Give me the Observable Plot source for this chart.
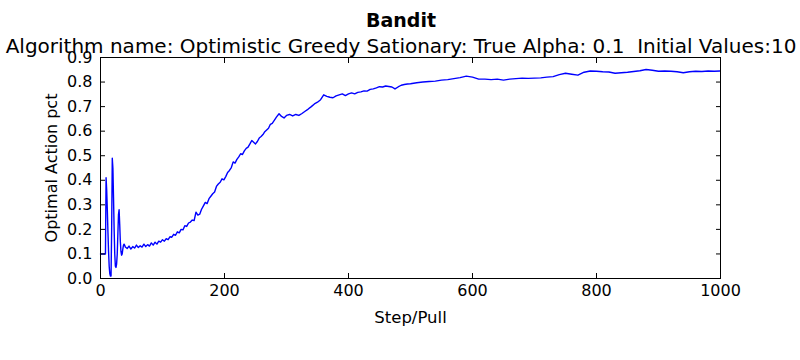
<!DOCTYPE html>
<html>
<head>
<meta charset="utf-8">
<script src="https://cdn.jsdelivr.net/npm/d3@7"></script>
<script src="https://cdn.jsdelivr.net/npm/@observablehq/plot@0.6"></script>
<style>
  html, body { margin: 0; padding: 0; background: white; }
  svg text { white-space: pre; }
</style>
</head>
<body>
<div id="chart"></div>
<script>
const chartTitle = "Bandit";
const chartSubtitle = "Algorithm name: Optimistic Greedy Sationary: True Alpha: 0.1  Initial Values:10";
const xLabel = "Step/Pull";
const yLabel = "Optimal Action pct";
const xTicks = [0, 200, 400, 600, 800, 1000];
const yTicks = [0.0, 0.1, 0.2, 0.3, 0.4, 0.5, 0.6, 0.7, 0.8, 0.9];

const steps = [
  0, 1, 2, 3, 4, 5, 6, 7, 8, 9, 10, 11, 12, 13, 14, 15, 16, 17, 18, 19,
  20, 21, 22, 23, 24, 25, 26, 27, 28, 29, 30, 31, 32, 33, 34, 35, 36, 37, 38, 39,
  40, 43, 46, 49, 52, 55, 58, 61, 64, 67, 70, 73, 76, 79, 82, 85, 88, 91, 94, 97,
  100, 103, 106, 109, 112, 115, 118, 121, 124, 127, 130, 133, 136, 139, 142, 145, 148, 151, 154, 157,
  160, 163, 166, 169, 172, 175, 178, 181, 184, 187, 190, 193, 196, 199, 202, 205, 208, 211, 214, 217,
  220, 223, 226, 229, 232, 235, 238, 241, 244, 247, 250, 253, 256, 259, 262, 265, 268, 271, 274, 277,
  280, 284, 288, 292, 296, 300, 305, 310, 315, 320, 325, 330, 335, 340, 345, 350, 355, 360, 365, 370,
  375, 380, 385, 390, 395, 400, 405, 410, 415, 420, 425, 430, 435, 440, 445, 450, 455, 460, 465, 470,
  475, 480, 485, 490, 495, 500, 510, 520, 530, 540, 550, 560, 570, 580, 590, 600, 610, 620, 630, 640,
  650, 660, 670, 680, 690, 700, 710, 720, 730, 740, 750, 760, 770, 780, 790, 800, 810, 820, 830, 840,
  850, 860, 870, 880, 890, 900, 910, 920, 930, 940, 950, 960, 970, 980, 990, 999
];
const pct = [
  0.10, 0.10, 0.10, 0.10, 0.10, 0.10, 0.10, 0.10, 0.10, 0.41, 0.36, 0.28, 0.19, 0.11, 0.05, 0.02, 0.01, 0.01, 0.20, 0.49,
  0.45, 0.33, 0.20, 0.10, 0.05, 0.045, 0.06, 0.10, 0.18, 0.26, 0.28, 0.22, 0.15, 0.11, 0.095, 0.10, 0.12, 0.135, 0.14, 0.135,
  0.128, 0.122, 0.132, 0.120, 0.130, 0.124, 0.136, 0.126, 0.133, 0.128, 0.140, 0.130, 0.138, 0.132, 0.145, 0.136, 0.148, 0.140, 0.152, 0.148,
  0.158, 0.152, 0.162, 0.158, 0.170, 0.168, 0.180, 0.176, 0.190, 0.186, 0.200, 0.198, 0.215, 0.212, 0.226, 0.230, 0.238, 0.236, 0.270, 0.258,
  0.262, 0.282, 0.296, 0.310, 0.305, 0.325, 0.335, 0.345, 0.352, 0.375, 0.385, 0.392, 0.406, 0.402, 0.415, 0.432, 0.440, 0.452, 0.475, 0.470,
  0.485, 0.495, 0.508, 0.505, 0.520, 0.530, 0.535, 0.548, 0.562, 0.555, 0.548, 0.558, 0.572, 0.578, 0.586, 0.598, 0.605, 0.612, 0.628, 0.632,
  0.643, 0.658, 0.671, 0.660, 0.654, 0.664, 0.668, 0.662, 0.668, 0.664, 0.672, 0.681, 0.690, 0.700, 0.711, 0.718, 0.728, 0.748, 0.742, 0.738,
  0.736, 0.744, 0.748, 0.752, 0.745, 0.752, 0.756, 0.752, 0.758, 0.760, 0.764, 0.763, 0.770, 0.772, 0.776, 0.781, 0.780, 0.784, 0.782, 0.780,
  0.772, 0.780, 0.787, 0.790, 0.792, 0.793, 0.797, 0.800, 0.802, 0.804, 0.808, 0.810, 0.814, 0.818, 0.824, 0.820, 0.812, 0.812, 0.810, 0.812,
  0.808, 0.812, 0.814, 0.816, 0.815, 0.816, 0.817, 0.820, 0.822, 0.830, 0.836, 0.832, 0.828, 0.840, 0.845, 0.844, 0.842, 0.841, 0.836, 0.838,
  0.840, 0.843, 0.846, 0.851, 0.848, 0.844, 0.845, 0.844, 0.842, 0.838, 0.842, 0.844, 0.843, 0.845, 0.844, 0.845
];

const data = steps.map((s, i) => ({step: s, pct: pct[i]}));

const font = "'DejaVu Sans', sans-serif";

const chart = Plot.plot({
  width: 800,
  height: 360,
  marginTop: 57,
  marginBottom: 82,
  marginLeft: 100,
  marginRight: 80,
  style: {fontFamily: font, fontSize: "16px", background: "white", color: "black", overflow: "visible"},
  x: {domain: [0, 1000]},
  y: {domain: [0, 0.9]},
  marks: [
    Plot.line(data, {x: "step", y: "pct", stroke: "#0000ff", strokeWidth: 1.4}),
    Plot.frame({stroke: "black", strokeWidth: 1}),
    Plot.axisX(xTicks, {anchor: "bottom", tickSize: -5, tickPadding: 11, tickFormat: d => String(d), label: null, fontSize: 16}),
    Plot.axisX(xTicks, {anchor: "top", tickSize: -5, tickFormat: () => "", label: null}),
    Plot.axisY(yTicks, {anchor: "left", tickSize: -5, tickPadding: 13, tickFormat: d3.format(".1f"), label: null, fontSize: 16}),
    Plot.axisY(yTicks, {anchor: "right", tickSize: -5, tickFormat: () => "", label: null}),
    Plot.text([xLabel], {frameAnchor: "bottom", lineAnchor: "middle", dy: 39.5, fontSize: 16.5}),
    Plot.text([yLabel], {frameAnchor: "left", textAnchor: "middle", lineAnchor: "middle", dx: -49, rotate: -90, fontSize: 16}),
    Plot.text([chartTitle], {frameAnchor: "top", textAnchor: "middle", lineAnchor: "middle", dx: -9.5, dy: -37, fontSize: 19, fontWeight: "bold"}),
    Plot.text([chartSubtitle], {frameAnchor: "top", textAnchor: "middle", lineAnchor: "middle", dx: -9.5, dy: -11, fontSize: 20})
  ]
});
document.getElementById("chart").appendChild(chart);
</script>
</body>
</html>
